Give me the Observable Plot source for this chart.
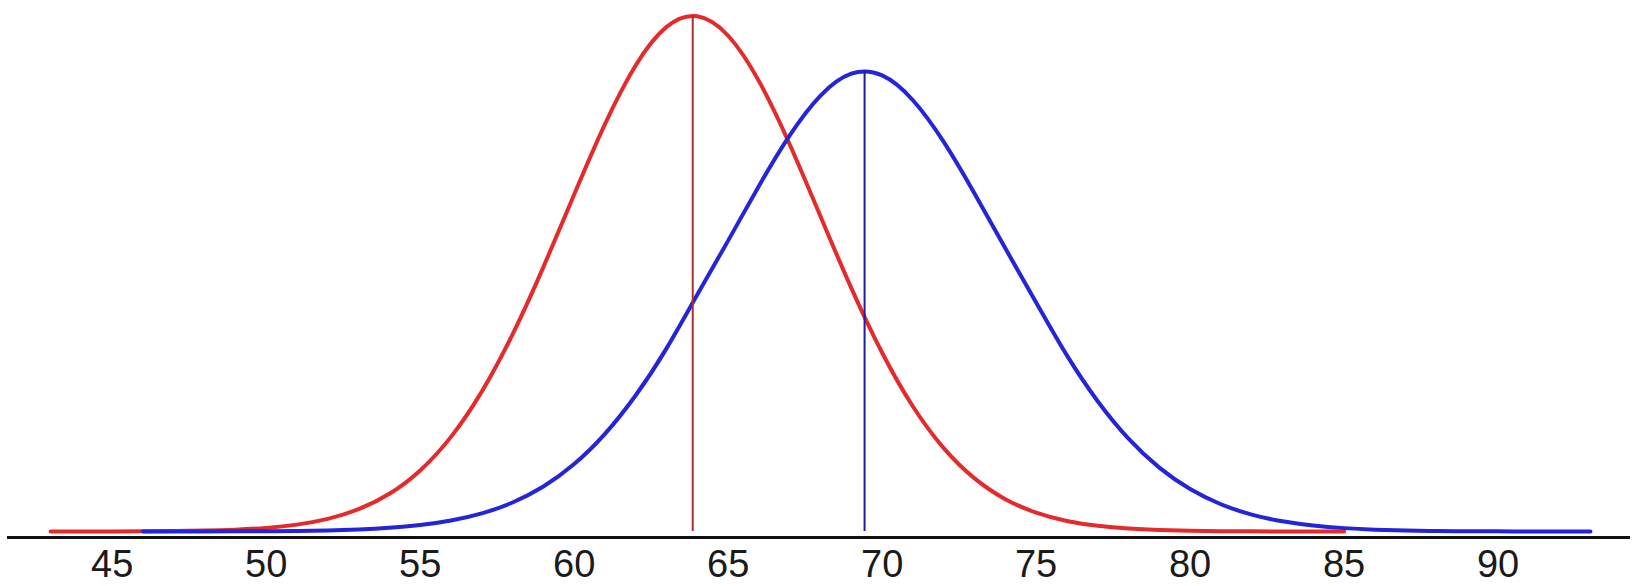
<!DOCTYPE html>
<html>
<head>
<meta charset="utf-8">
<script src="https://cdn.jsdelivr.net/npm/d3@7"></script>
<script src="https://cdn.jsdelivr.net/npm/@observablehq/plot@0.6"></script>
<style>
  html, body { margin: 0; padding: 0; background: #ffffff; }
  #chart svg { display: block; }
</style>
</head>
<body>
<div id="chart"></div>
<script>
// Red curve (left distribution)
const redX = [43,44,45,46,47,48,49,50,51,52,53,54,55,56,57,58,59,60,61,62,63,64,65,66,67,68,69,70,71,72,73,74,75,76,77,78,79,80,81,82,83,84,85];
const redY = [0.0000026,0.0000064,0.000015,0.0000343,0.0000758,0.000162,0.000334,0.000663,0.001267,0.002328,0.004108,0.00695,0.011257,0.017437,0.025777,0.036326,0.048727,0.062097,0.075065,0.085934,0.092989,0.094936,0.091364,0.083003,0.071316,0.058053,0.04485,0.032938,0.023034,0.015358,0.009784,0.005961,0.00348,0.001947,0.001046,0.000541,0.00027,0.000129,0.0000599,0.0000268,0.0000116,0.000005,0.000002];

// Blue curve (right distribution)
const blueX = [46,47,48,49,50,51,52,53,54,55,56,57,58,59,60,61,62,63,64,65,66,67,68,69,70,71,72,73,74,75,76,77,78,79,80,81,82,83,84,85,86,87,88,89,90,91,92,93];
const blueY = [0.0000029,0.0000062,0.000013,0.0000267,0.0000536,0.000105,0.000201,0.000373,0.000674,0.001184,0.002019,0.003339,0.005349,0.008293,0.012427,0.017989,0.025103,0.03375,0.043658,0.053605,0.06369,0.073003,0.080334,0.084368,0.084048,0.079479,0.071793,0.062297,0.052184,0.042213,0.032457,0.024014,0.017116,0.011772,0.007815,0.005018,0.003118,0.001877,0.001096,0.000622,0.000343,0.000184,0.0000957,0.0000486,0.0000241,0.0000116,0.0000055,0.0000025];

// Mean markers
const seriesNames = ["left", "right"];
const means = [63.85, 69.43];
const peaks = [0.0950, 0.0848];

// Axis tick labels
const tickValues = [45, 50, 55, 60, 65, 70, 75, 80, 85, 90];

const redRows = redX.map((x, i) => ({x, y: redY[i]}));
const blueRows = blueX.map((x, i) => ({x, y: blueY[i]}));
const meanRows = seriesNames.map((s, i) => ({s, x: means[i], top: peaks[i]}));

const chart = Plot.plot({
  width: 1637,
  height: 586,
  marginTop: 15.5,
  marginBottom: 55,
  marginLeft: 7,
  marginRight: 7,
  style: { background: "#ffffff", fontFamily: "'Liberation Sans', Arial, sans-serif", color: "#1a1a1a", overflow: "visible" },
  x: { domain: [41.6, 94.3], label: null },
  y: { domain: [0, 0.0950], axis: null },
  color: { domain: seriesNames, range: ["#a83232", "#1e1e9e"] },
  marks: [
    Plot.ruleY([0], { dy: 6, stroke: "#111111", strokeWidth: 3 }),
    Plot.axisX({ ticks: tickValues, tickSize: 0, tickPadding: 19, fontSize: 38, label: null, tickFormat: d => String(d) }),
    Plot.line(redRows, { x: "x", y: "y", stroke: "#e42a2a", strokeWidth: 4, curve: "natural" }),
    Plot.line(blueRows, { x: "x", y: "y", stroke: "#2424d8", strokeWidth: 4, curve: "natural" }),
    Plot.ruleX(meanRows, { x: "x", y1: 0, y2: "top", stroke: "s", strokeWidth: 2 })
  ]
});
document.getElementById("chart").appendChild(chart);
</script>
</body>
</html>
